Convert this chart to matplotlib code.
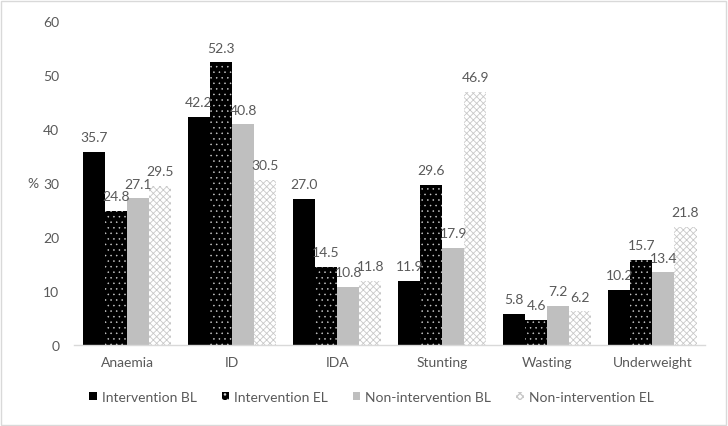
import matplotlib
matplotlib.use("Agg")
import matplotlib.pyplot as plt
import numpy as np
from matplotlib.patches import Rectangle

plt.rcParams['font.family'] = ['Lato', 'DejaVu Sans']

categories = ["Anaemia", "ID", "IDA", "Stunting", "Wasting", "Underweight"]
series_names = ["Intervention BL", "Intervention EL", "Non-intervention BL", "Non-intervention EL"]
intervention_bl = [35.7, 42.2, 27.0, 11.9, 5.8, 10.2]
intervention_el = [24.8, 52.3, 14.5, 29.6, 4.6, 15.7]
non_intervention_bl = [27.1, 40.8, 10.8, 17.9, 7.2, 13.4]
non_intervention_el = [29.5, 30.5, 11.8, 46.9, 6.2, 21.8]
yticks = [0, 10, 20, 30, 40, 50, 60]

series = [intervention_bl, intervention_el, non_intervention_bl, non_intervention_el]
styles = [
    dict(color="#000000", hatch=None, edgecolor="#000000", hlw=0.8),
    dict(color="#000000", hatch="...", edgecolor="#d0d0d0", hlw=0.35),
    dict(color="#bfbfbf", hatch=None, edgecolor="#bfbfbf", hlw=0.8),
    dict(color="#ffffff", hatch="xxxxx", edgecolor="#c8c8c8", hlw=0.6),
]
text_color = "#595959"

fig = plt.figure(figsize=(7.28, 4.27), dpi=100)
fig.patches.append(Rectangle((0.002, 0.003), 0.995, 0.993, transform=fig.transFigure,
                             fill=False, edgecolor="#d9d9d9", linewidth=1.0))
ax = fig.add_axes([0.1023, 0.19, 0.866, 0.759])

x = np.arange(len(categories))
w = 0.21
bars_list = []
for i, (vals, st) in enumerate(zip(series, styles)):
    pos = x + (i - 1.5) * w
    with plt.rc_context({"hatch.linewidth": st["hlw"]}):
        bars = ax.bar(pos, vals, width=w, color=st["color"], hatch=st["hatch"],
                      edgecolor=st["edgecolor"], linewidth=0, label=series_names[i])
    for b in bars:
        if hasattr(b, "set_hatch_linewidth"):
            b.set_hatch_linewidth(st["hlw"])
    bars_list.append(bars)
    for p, v in zip(pos, vals):
        ax.annotate(f"{v:.1f}", (p, v), xytext=(0, 7.7), textcoords="offset points",
                    ha="center", va="baseline", fontsize=10, color=text_color)

ax.set_xlim(-0.5, len(categories) - 0.5)
ax.set_ylim(0, 60)
ax.set_yticks(yticks)
ax.set_xticks(x)
ax.set_xticklabels(categories)
ax.tick_params(axis="both", length=0, labelsize=10, labelcolor=text_color)
ax.tick_params(axis="y", pad=11)
ax.tick_params(axis="x", pad=8)
for s in ["top", "right", "left"]:
    ax.spines[s].set_visible(False)
ax.spines["bottom"].set_color("#d9d9d9")
ax.spines["bottom"].set_linewidth(1)

fig.text(33 / 728, 1 - 184 / 427, "%", ha="center", va="center", fontsize=10, color=text_color)

leg = fig.legend(handles=bars_list, labels=series_names, loc="center",
                 bbox_to_anchor=(0.51, 0.068), ncol=4, frameon=False,
                 handlelength=0.55, handleheight=0.55, handletextpad=0.35,
                 columnspacing=1.8, fontsize=10)
for t in leg.get_texts():
    t.set_color(text_color)

fig.savefig("out.png", dpi=100)
